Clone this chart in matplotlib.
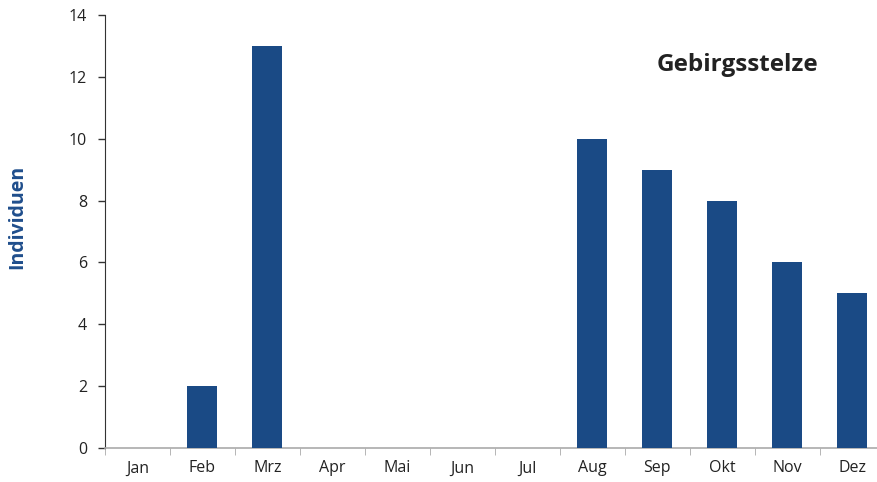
import numpy as np
import matplotlib.pyplot as plt

plt.rcParams['font.family'] = ['Open Sans', 'DejaVu Sans']

months = ['Jan', 'Feb', 'Mrz', 'Apr', 'Mai', 'Jun', 'Jul', 'Aug', 'Sep', 'Okt', 'Nov', 'Dez']
counts = [0, 2, 13, 0, 0, 0, 0, 10, 9, 8, 6, 5]
yticks = [0, 2, 4, 6, 8, 10, 12, 14]

W, H = 877, 482
fig = plt.figure(figsize=(W / 100, H / 100), dpi=100)
ax = fig.add_axes([105 / W, 1 - 448 / H, (884.5 - 105) / W, (448 - 15) / H])

x = np.arange(len(months))
ax.bar(x, counts, width=0.46, color='#1a4a85', zorder=3)

ax.set_xlim(-0.5, len(months) - 0.5)
ax.set_ylim(0, 14)
ax.set_yticks(yticks)
ax.set_xticks(x)
ax.set_xticklabels(months)
ax.set_xticks(np.arange(-0.5, len(months), 1), minor=True)
ax.tick_params(axis='x', which='major', length=0, pad=9, labelsize=11.5, colors='#222222')
ax.tick_params(axis='x', which='minor', length=5, color='#aaaaaa', direction='out')
ax.tick_params(axis='y', length=5, width=1, color='#333333', labelsize=11.5, colors='#222222', pad=8)

for s in ['top', 'right']:
    ax.spines[s].set_visible(False)
ax.spines['left'].set_color('#333333')
ax.spines['bottom'].set_color('#aaaaaa')
ax.spines['bottom'].set_linewidth(1.2)

# y label sits a bit above the axis centre in the original
fig.text(17 / W, 1 - 217 / H, 'Individuen', fontsize=14, fontweight='bold', color='#1f4e8c',
         rotation=90, ha='center', va='center')

fig.text(737 / W, 1 - 65 / H, 'Gebirgsstelze', fontsize=17.5, fontweight='bold',
         color='#222222', ha='center', va='center')

fig.savefig('out.png', dpi=100)
